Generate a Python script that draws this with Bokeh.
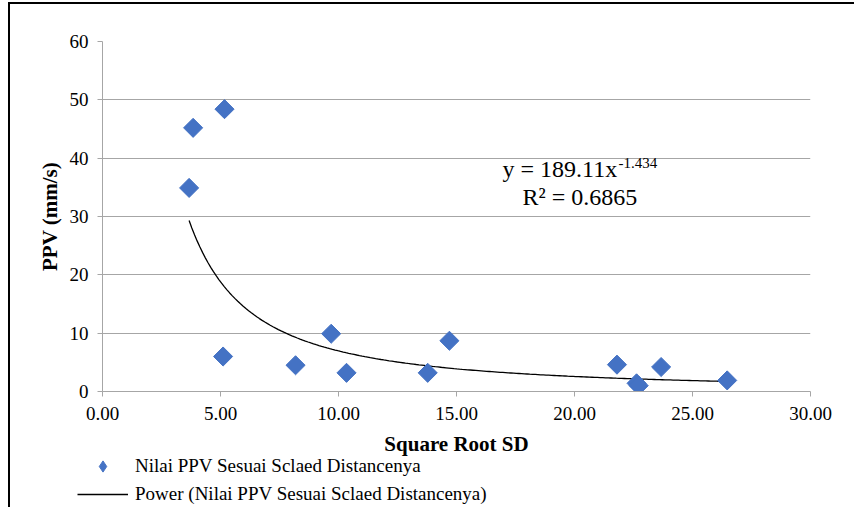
import numpy as np
from bokeh.plotting import figure
from bokeh.layouts import column
from bokeh.models import (Range1d, FixedTicker, NumeralTickFormatter, Legend, LegendItem,
                          Label, ColumnDataSource)
from bokeh.embed import file_html
from bokeh.resources import INLINE

# ---- data ----
sqrt_sd = [3.67, 3.84, 5.17, 5.11, 8.18, 9.69, 10.34, 13.78, 14.70, 21.80, 22.63, 22.72, 23.67, 26.47]
ppv = [34.9, 45.2, 48.4, 6.0, 4.5, 9.9, 3.2, 3.2, 8.7, 4.6, 1.4, 1.0, 4.2, 1.9]
fit_a = 189.11
fit_b = -1.434
r2 = 0.6865
x_ticks = [0, 5, 10, 15, 20, 25, 30]
y_ticks = [0, 10, 20, 30, 40, 50, 60]
series_name = "Nilai PPV Sesuai Sclaed Distancenya"
trend_name = "Power (Nilai PPV Sesuai Sclaed Distancenya)"
x_title = "Square Root SD"
y_title = "PPV (mm/s)"

FONT = "Liberation Serif"
BLUE = "#4472C4"
GRAY = "#A6A6A6"

W = 844
p = figure(width=W, height=425, output_backend="svg", toolbar_location=None,
           x_range=Range1d(0, 30), y_range=Range1d(0, 60), frame_align=False,
           min_border_left=92, min_border_right=W - 92 - 708, min_border_top=37,
           min_border_bottom=38)
p.outline_line_color = None
p.background_fill_color = "white"
p.border_fill_color = "white"

# axes
for ax in (p.xaxis[0], p.yaxis[0]):
    ax.axis_line_color = GRAY
    ax.major_tick_line_color = GRAY
    ax.major_tick_in = 0
    ax.major_tick_out = 5
    ax.minor_tick_line_color = None
    ax.major_label_text_font = FONT
    ax.major_label_text_font_size = "19px"
    ax.major_label_text_color = "black"
    ax.axis_label_text_font = FONT
    ax.axis_label_text_font_style = "bold"
    ax.axis_label_text_font_size = "21px"
    ax.axis_label_text_color = "black"

p.xaxis.ticker = FixedTicker(ticks=x_ticks)
p.yaxis.ticker = FixedTicker(ticks=y_ticks)
p.xaxis.formatter = NumeralTickFormatter(format="0.00")
p.yaxis.formatter = NumeralTickFormatter(format="0")
p.xaxis.major_label_standoff = 10
p.yaxis.major_label_standoff = 9
p.yaxis.axis_label = y_title
p.yaxis.axis_label_standoff = 5

p.xgrid.grid_line_color = None
p.ygrid.grid_line_color = GRAY
p.ygrid.grid_line_width = 1

# trend line from the power fit
xs = np.linspace(min(sqrt_sd), max(sqrt_sd), 200)
ys = fit_a * xs ** fit_b
trend_src = ColumnDataSource(dict(x=xs, y=ys))
src = ColumnDataSource(dict(x=sqrt_sd, y=ppv))

p.line("x", "y", source=trend_src, line_color="black", line_width=1.3)
p.scatter("x", "y", source=src, marker="square", size=13.5, angle=np.pi / 4,
          fill_color=BLUE, line_color=BLUE)

# equation text
p.add_layout(Label(x=16.95, y=38.1, text="y = 189.11x", text_font=FONT,
                   text_font_size="24px", text_color="black", text_baseline="alphabetic"))
p.add_layout(Label(x=21.86, y=39.2, text="%.3f" % fit_b, text_font=FONT,
                   text_font_size="15px", text_color="black", text_baseline="alphabetic"))
p.add_layout(Label(x=17.8, y=33.3, text="R² = %.4f" % r2, text_font=FONT,
                   text_font_size="24px", text_color="black", text_baseline="alphabetic"))

# strip below the chart: x-axis title and legend (own canvas, pixel-like ranges)
LH = 78
leg = figure(width=W, height=LH, output_backend="svg", toolbar_location=None,
             x_range=Range1d(0, W), y_range=Range1d(0, LH), frame_align=False,
             x_axis_type=None, y_axis_type=None,
             min_border_left=0, min_border_right=0, min_border_top=0, min_border_bottom=0)
leg.outline_line_color = None
leg.grid.grid_line_color = None
leg.background_fill_color = "white"
leg.border_fill_color = "white"

leg.add_layout(Label(x=446, y=64, text=x_title, text_font=FONT, text_font_size="21px",
                     text_font_style="bold", text_color="black", text_align="center",
                     text_baseline="alphabetic"))

pts_l = leg.scatter("x", "y", source=src, marker="diamond", size=13,
                    fill_color=BLUE, line_color=BLUE, visible=False)
line_l = leg.line("x", "y", source=trend_src, line_color="black", line_width=1.3, visible=False)

legend = Legend(items=[LegendItem(label=series_name, renderers=[pts_l]),
                       LegendItem(label=trend_name, renderers=[line_l])],
                location=(67, -1), orientation="vertical",
                glyph_width=51, glyph_height=28, label_height=28, label_standoff=7,
                spacing=0, padding=0, margin=0,
                label_text_font=FONT, label_text_font_size="19px", label_text_color="black",
                background_fill_alpha=0, border_line_alpha=0)
leg.add_layout(legend, "center")

page = column(p, leg, spacing=0,
              styles={"border-left": "2px solid black", "border-top": "2px solid black",
                      "margin-top": "2px", "margin-left": "8px"})

open("out.html", "w").write(file_html(page, INLINE))
